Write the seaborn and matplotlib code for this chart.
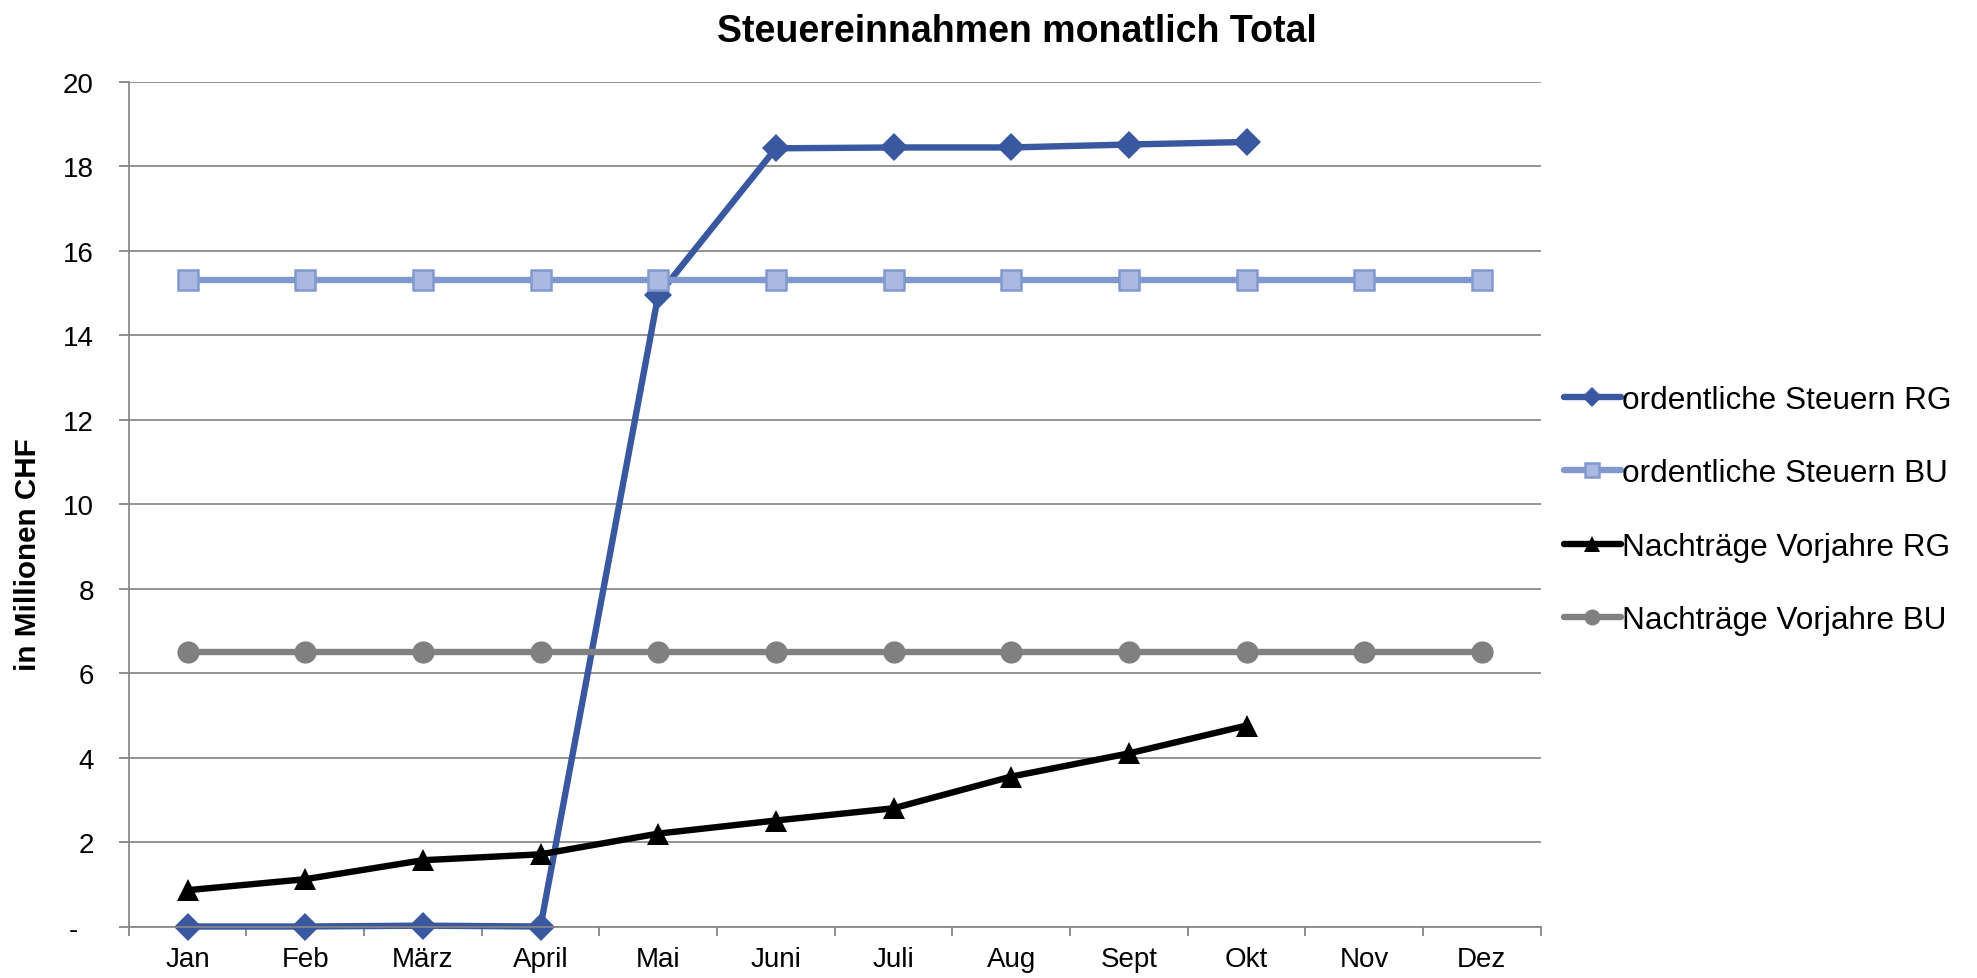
import numpy as np
import pandas as pd
import matplotlib
matplotlib.use("Agg")
import matplotlib.pyplot as plt
import seaborn as sns

months = ["Jan", "Feb", "März", "April", "Mai", "Juni", "Juli", "Aug", "Sept", "Okt", "Nov", "Dez"]
ord_rg = [0.0, 0.0, 0.02, 0.0, 14.95, 18.43, 18.45, 18.45, 18.52, 18.58]
ord_bu = [15.3] * 12
nach_rg = [0.86, 1.12, 1.57, 1.71, 2.20, 2.51, 2.80, 3.55, 4.10, 4.76]
nach_bu = [6.49] * 12
yticks = list(range(0, 21, 2))
ytick_labels = ["-  "] + [str(v) for v in yticks[1:]]
labels = ["ordentliche Steuern RG", "ordentliche Steuern BU", "Nachträge Vorjahre RG", "Nachträge Vorjahre BU"]
title = "Steuereinnahmen monatlich Total"
ylabel = "in Millionen CHF"

sns.set_theme(style="white")
plt.rcParams["font.family"] = ["Liberation Sans", "DejaVu Sans"]
plt.rcParams["text.color"] = "black"
plt.rcParams["axes.labelcolor"] = "black"
plt.rcParams["xtick.labelcolor"] = "black"
plt.rcParams["ytick.labelcolor"] = "black"

GRAY = "#868686"
pos = np.arange(len(months))

fig = plt.figure(figsize=(19.77, 9.79), dpi=100)
ax = fig.add_axes([0.0651, 0.0526, 0.7142, 0.8626])

lw = 4.6
sns.lineplot(x=pos[:len(ord_rg)], y=ord_rg, ax=ax, color="#3A58A0", lw=lw,
             marker="D", markersize=14.5, markeredgewidth=0, label=labels[0], clip_on=False)
sns.lineplot(x=pos[:len(ord_bu)], y=ord_bu, ax=ax, color="#8299CF", lw=lw,
             marker="s", markersize=14.5, markerfacecolor="#AAB8E2", markeredgecolor="#8299CF",
             markeredgewidth=1.8, label=labels[1], clip_on=False)
sns.lineplot(x=pos[:len(nach_rg)], y=nach_rg, ax=ax, color="black", lw=lw,
             marker="^", markersize=16.5, markeredgewidth=0, label=labels[2], clip_on=False)
sns.lineplot(x=pos[:len(nach_bu)], y=nach_bu, ax=ax, color="#808080", lw=lw,
             marker="o", markersize=16, markeredgewidth=0, label=labels[3], clip_on=False)

ax.set_xlim(-0.5, len(months) - 0.5)
ax.set_ylim(0, 20)

ax.set_xticks(pos)
ax.set_xticklabels(months)
ax.set_xticks(np.arange(-0.5, len(months), 1), minor=True)
ax.tick_params(axis="x", which="major", length=0, pad=14, labelsize=20, labelcolor="black")
ax.tick_params(axis="x", which="minor", length=6.5, width=1.3, color=GRAY, direction="out")

ax.set_yticks(yticks)
ax.set_yticklabels(ytick_labels)
ax.tick_params(axis="y", which="major", length=7, width=1.3, color=GRAY, direction="out",
               pad=18, labelsize=20, labelcolor="black")
ax.tick_params(left=True, bottom=False)
ax.tick_params(axis="x", which="minor", bottom=True)

ax.yaxis.grid(True, color=GRAY, lw=1.25)
ax.xaxis.grid(False)
ax.set_axisbelow(True)
for s in ["top", "right"]:
    ax.spines[s].set_visible(False)
for s in ["left", "bottom"]:
    ax.spines[s].set_color(GRAY)
    ax.spines[s].set_linewidth(1.25)

ax.set_title(title, fontsize=27, fontweight="bold", color="black", x=0.629, y=1.049, pad=0)
ax.set_ylabel(ylabel, fontsize=21.3, fontweight="bold", color="black")
ax.yaxis.label.set_verticalalignment("center")
ax.yaxis.set_label_coords(-0.0713, 0.442)
ax.set_xlabel("")

handles, labs = ax.get_legend_handles_labels()
leg = ax.legend(handles, labs, loc="center left", bbox_to_anchor=(1564 / 1977, 0.478),
                bbox_transform=fig.transFigure, frameon=False, fontsize=22.7,
                handlelength=1.8, handletextpad=0.05, labelspacing=1.37, borderpad=0,
                borderaxespad=0, markerscale=0.72)
for t in leg.get_texts():
    t.set_color("black")

fig.savefig("out.png", dpi=100)
